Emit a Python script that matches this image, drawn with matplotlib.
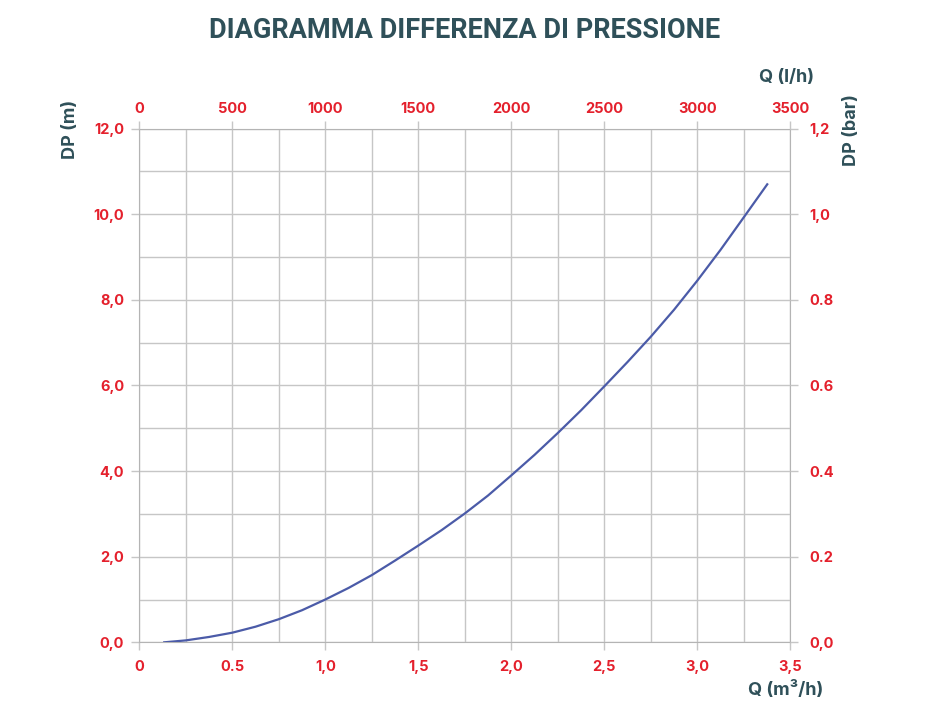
import matplotlib
matplotlib.use("Agg")
import matplotlib.pyplot as plt

# Dati
portata_m3h = [0.134, 0.25, 0.375, 0.5, 0.625, 0.75, 0.875, 1.0, 1.125, 1.25, 1.375,
               1.5, 1.625, 1.75, 1.875, 2.0, 2.125, 2.25, 2.375, 2.5, 2.625, 2.75,
               2.875, 3.0, 3.125, 3.25, 3.376]
dp_m = [0.0, 0.045, 0.125, 0.225, 0.365, 0.54, 0.75, 1.0, 1.27, 1.57, 1.91,
        2.26, 2.62, 3.01, 3.43, 3.90, 4.38, 4.89, 5.42, 5.98, 6.55, 7.14,
        7.77, 8.45, 9.17, 9.93, 10.70]

x_ticks = [0, 0.5, 1.0, 1.5, 2.0, 2.5, 3.0, 3.5]
x_labels = ["0", "0.5", "1,0", "1,5", "2,0", "2,5", "3,0", "3,5"]
y_ticks = [0, 2, 4, 6, 8, 10, 12]
y_labels = ["0,0", "2,0", "4,0", "6,0", "8,0", "10,0", "12,0"]
top_labels = ["0", "500", "1000", "1500", "2000", "2500", "3000", "3500"]
right_labels = ["0,0", "0.2", "0.4", "0.6", "0.8", "1,0", "1,2"]

rosso = "#e4202c"
scuro = "#2f5059"
griglia = "#c6c6c6"
linea = "#4b5ba8"

plt.rcParams["font.family"] = ["Inter", "DejaVu Sans"]

fig = plt.figure(figsize=(9.3, 7.2), dpi=100)
ax = fig.add_axes([0.1498, 0.1079, 0.70, 0.7134])

ax.plot(portata_m3h, dp_m, color=linea, lw=1.6, zorder=3, solid_joinstyle="round")

ax.set_xlim(0, 3.5)
ax.set_ylim(0, 12)
ax.set_xticks([i * 0.25 for i in range(15)], minor=True)
ax.set_yticks(range(13), minor=True)
ax.grid(which="both", color=griglia, lw=1.0)
ax.set_xticks(x_ticks)
ax.set_xticklabels(x_labels)
ax.set_yticks(y_ticks)
ax.set_yticklabels(y_labels)
ax.tick_params(which="minor", length=0)
ax.tick_params(axis="y", which="major", length=6, color=griglia, width=1, pad=5,
               labelcolor=rosso, labelsize=10.5)
ax.tick_params(axis="x", which="major", length=6, color=griglia, width=1, pad=7,
               labelcolor=rosso, labelsize=10.5)
for s in ax.spines.values():
    s.set_color("#b4b4b4")
for lab in ax.get_xticklabels() + ax.get_yticklabels():
    lab.set_fontweight("bold")

# asse superiore l/h
ax_top = ax.twiny()
ax_top.set_xlim(0, 3500)
ax_top.set_xticks([float(t) for t in top_labels])
ax_top.set_xticklabels(top_labels)
ax_top.tick_params(length=6, color=griglia, width=1, pad=3,
                   labelcolor=rosso, labelsize=10.5)

# asse destro bar
ax_right = ax.twinx()
ax_right.set_ylim(0, 1.2)
ax_right.set_yticks([t / 10 for t in y_ticks])
ax_right.set_yticklabels(right_labels)
ax_right.tick_params(length=6, color=griglia, width=1, pad=8,
                     labelcolor=rosso, labelsize=10.5)
for a in (ax_top, ax_right):
    for s in a.spines.values():
        s.set_visible(False)
for lab in ax_top.get_xticklabels() + ax_right.get_yticklabels():
    lab.set_fontweight("bold")

fig.text(0.5, 0.957, "DIAGRAMMA DIFFERENZA DI PRESSIONE", ha="center", va="center",
         fontsize=19.5, fontweight="bold", color=scuro, family=["Roboto", "DejaVu Sans"])
fig.text(0.076, 0.82, "DP (m)", rotation=90, ha="center", va="center",
         fontsize=13, fontweight="bold", color=scuro)
fig.text(0.916, 0.82, "DP (bar)", rotation=90, ha="center", va="center",
         fontsize=13, fontweight="bold", color=scuro)
fig.text(0.846, 0.893, "Q (l/h)", ha="center", va="center",
         fontsize=13, fontweight="bold", color=scuro)
fig.text(0.845, 0.042, "Q (m³/h)", ha="center", va="center",
         fontsize=13, fontweight="bold", color=scuro)

fig.savefig("out.png", dpi=100)
